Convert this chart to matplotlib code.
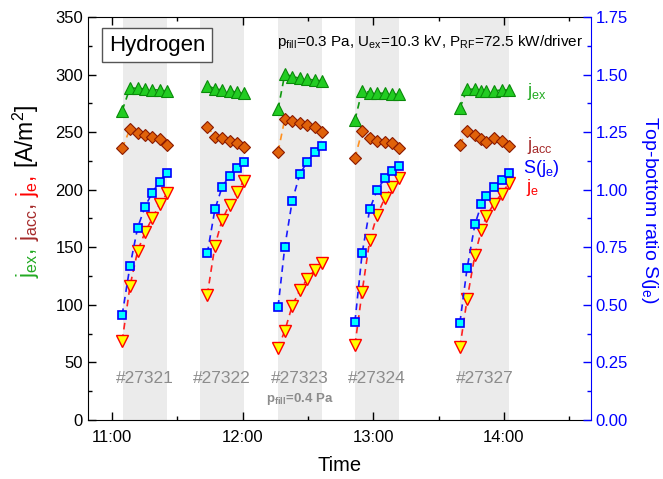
import numpy as np
import matplotlib
matplotlib.use("Agg")
import matplotlib.pyplot as plt
from matplotlib.ticker import MultipleLocator, FuncFormatter

plt.rcParams['font.family'] = ['Liberation Sans', 'DejaVu Sans']
plt.rcParams['mathtext.default'] = 'regular'

# time in minutes after midnight
shots = ["#27321", "#27322", "#27323", "#27324", "#27327"]
band_start = [665.1, 700.4, 736.2, 771.6, 819.8]
band_end = [685.3, 720.6, 756.4, 791.8, 842.3]

times = [
    [664.7, 668.3, 671.8, 675.2, 678.5, 681.9, 685.4],
    [703.8, 707.3, 710.6, 714.0, 717.4, 720.7],
    [736.3, 739.4, 742.8, 746.3, 749.7, 753.1, 756.5],
    [771.6, 774.9, 778.4, 781.8, 785.3, 788.7, 791.9],
    [819.8, 823.1, 826.7, 829.7, 832.0, 835.4, 838.9, 842.3],
]
j_ex = [
    [268.7, 288.5, 288.0, 287.5, 287.0, 286.5, 285.8],
    [290.5, 287.6, 286.7, 285.8, 284.7, 283.8],
    [270.0, 300.6, 298.3, 296.8, 295.9, 295.3, 294.5],
    [260.6, 286.1, 284.4, 283.8, 283.8, 283.0, 283.0],
    [270.8, 287.3, 287.3, 286.1, 286.0, 286.0, 286.5, 286.7],
]
j_acc = [
    [236.0, 252.8, 249.1, 247.6, 246.2, 243.8, 239.2],
    [254.8, 246.2, 244.7, 242.7, 240.4, 236.9],
    [233.1, 261.5, 259.8, 257.8, 256.3, 254.3, 250.0],
    [227.4, 251.4, 245.3, 242.7, 241.8, 240.4, 236.0],
    [239.0, 251.4, 247.6, 243.8, 241.8, 244.7, 242.7, 238.3],
]
j_e = [
    [68.6, 116.4, 146.8, 163.0, 175.2, 187.4, 197.0],
    [108.6, 151.4, 173.8, 187.0, 198.4, 208.0],
    [62.3, 77.6, 99.3, 112.9, 122.5, 130.3, 136.1],
    [65.2, 111.5, 156.4, 178.1, 192.6, 202.7, 210.0],
    [63.1, 104.8, 143.4, 165.1, 177.2, 187.7, 196.4, 205.6],
]
s_je = [
    [0.456, 0.669, 0.835, 0.926, 0.987, 1.035, 1.074],
    [0.724, 0.915, 1.012, 1.061, 1.096, 1.119],
    [0.492, 0.753, 0.952, 1.068, 1.122, 1.162, 1.190],
    [0.427, 0.724, 0.916, 0.999, 1.049, 1.081, 1.103],
    [0.423, 0.659, 0.850, 0.937, 0.973, 1.010, 1.042, 1.071],
]

fig = plt.figure(figsize=(6.63, 4.79), dpi=100)
ax = fig.add_axes([0.1327, 0.1232, 0.7587, 0.8413])
ax2 = ax.twinx()

for b0, b1, name in zip(band_start, band_end, shots):
    ax.axvspan(b0, b1, color="#ebebeb", lw=0, zorder=0)
    ax.text((b0 + b1) / 2, 36, name, color="#8c8c8c", fontsize=12.5,
            ha="center", va="center")
ax.text((band_start[2] + band_end[2]) / 2, 18, r"p$_{fill}$=0.4 Pa", color="#8c8c8c",
        fontsize=9.5, fontweight="bold", ha="center", va="center")

dash = (0, (4, 3))
for k in range(len(shots)):
    ax.plot(times[k], j_ex[k], ls=dash, color="#109910", lw=1.2, marker="^", ms=8,
            mfc="#22cc22", mec="#0a8a0a", mew=0.8, zorder=3)
    ax.plot(times[k], j_acc[k], ls=dash, color="#ff9020", lw=1.2, marker="D", ms=6.5,
            mfc="#e0620a", mec="#8b1a00", mew=0.8, zorder=3)
    ax.plot(times[k], j_e[k], ls=dash, color="#ff2020", lw=1.2, marker="v", ms=8,
            mfc="#ffff00", mec="#ff0000", mew=1.0, zorder=3)
    ax2.plot(times[k], s_je[k], ls=dash, color="#1a1aff", lw=1.2, marker="s", ms=5.5,
             mfc="#00ffff", mec="#0000ff", mew=1.2, zorder=3)

ax.set_xlim(649, 880)
ax.set_ylim(0, 350)
ax2.set_ylim(0, 1.75)

ax.xaxis.set_major_locator(MultipleLocator(60))
ax.xaxis.set_minor_locator(MultipleLocator(30))
ax.xaxis.set_major_formatter(FuncFormatter(lambda v, p: f"{int(v // 60)}:{int(v % 60):02d}"))
ax.yaxis.set_major_locator(MultipleLocator(50))
ax.yaxis.set_minor_locator(MultipleLocator(25))
ax2.yaxis.set_major_locator(MultipleLocator(0.25))
ax2.yaxis.set_minor_locator(MultipleLocator(0.125))
ax2.yaxis.set_major_formatter(FuncFormatter(lambda v, p: f"{v:.2f}"))

ax.tick_params(which="both", direction="in", top=True, right=False, labelsize=12)
ax.tick_params(which="major", length=6, width=1)
ax.tick_params(which="minor", length=3, width=1)
ax.tick_params(axis="x", pad=7)
ax2.tick_params(which="both", direction="in", colors="blue", labelsize=12)
ax2.tick_params(which="major", length=6, width=1)
ax2.tick_params(which="minor", length=3, width=1)
ax.spines["right"].set_visible(False)
ax2.spines["right"].set_color("blue")
ax2.spines["left"].set_visible(False)
ax2.spines["top"].set_visible(False)
ax2.spines["bottom"].set_visible(False)

ax.set_xlabel("Time", fontsize=14.5, labelpad=8)
ax2.set_ylabel(r"Top-bottom ratio S(j$_e$)", color="blue", fontsize=14, rotation=270)
ax2.yaxis.set_label_coords(1.137, 0.521)

ax.text(0.137, 0.93, "Hydrogen", transform=ax.transAxes, fontsize=16,
        ha="center", va="center",
        bbox=dict(boxstyle="square,pad=0.3", fc="white", ec="#555555", lw=1))
ax.text(0.68, 0.938, r"p$_{fill}$=0.3 Pa, U$_{ex}$=10.3 kV, P$_{RF}$=72.5 kW/driver",
        transform=ax.transAxes, fontsize=11, ha="center", va="center")

ax.text(0.873, 0.816, r"j$_{ex}$", transform=ax.transAxes, color="#22aa22", fontsize=13, va="center")
ax.text(0.873, 0.682, r"j$_{acc}$", transform=ax.transAxes, color="#a52a2a", fontsize=13, va="center")
ax.text(0.864, 0.623, r"S(j$_e$)", transform=ax.transAxes, color="blue", fontsize=13, va="center")
ax.text(0.871, 0.576, r"j$_e$", transform=ax.transAxes, color="red", fontsize=13, va="center")

# multi-coloured left label, built piece by piece upwards
parts = [(r"j$_{ex}$,", "#22aa22"), (r"j$_{acc}$,", "#a52a2a"),
         (r"j$_{e}$,", "red"), (r"[A/m$^2$]", "black")]
fig.canvas.draw()
renderer = fig.canvas.get_renderer()
xlab = 0.051
gap = 7.0 / fig.bbox.height
texts = []
y = 0.0
for s, c in parts:
    t = fig.text(xlab, y, s, color=c, fontsize=16.5, rotation=90, rotation_mode="anchor",
                 ha="left", va="baseline")
    h = t.get_window_extent(renderer).height / fig.bbox.height
    texts.append((t, y))
    y += h + gap
y -= gap
y0 = 0.601 - y / 2
for t, yy in texts:
    t.set_y(y0 + yy)

fig.savefig("out.png", dpi=100)
